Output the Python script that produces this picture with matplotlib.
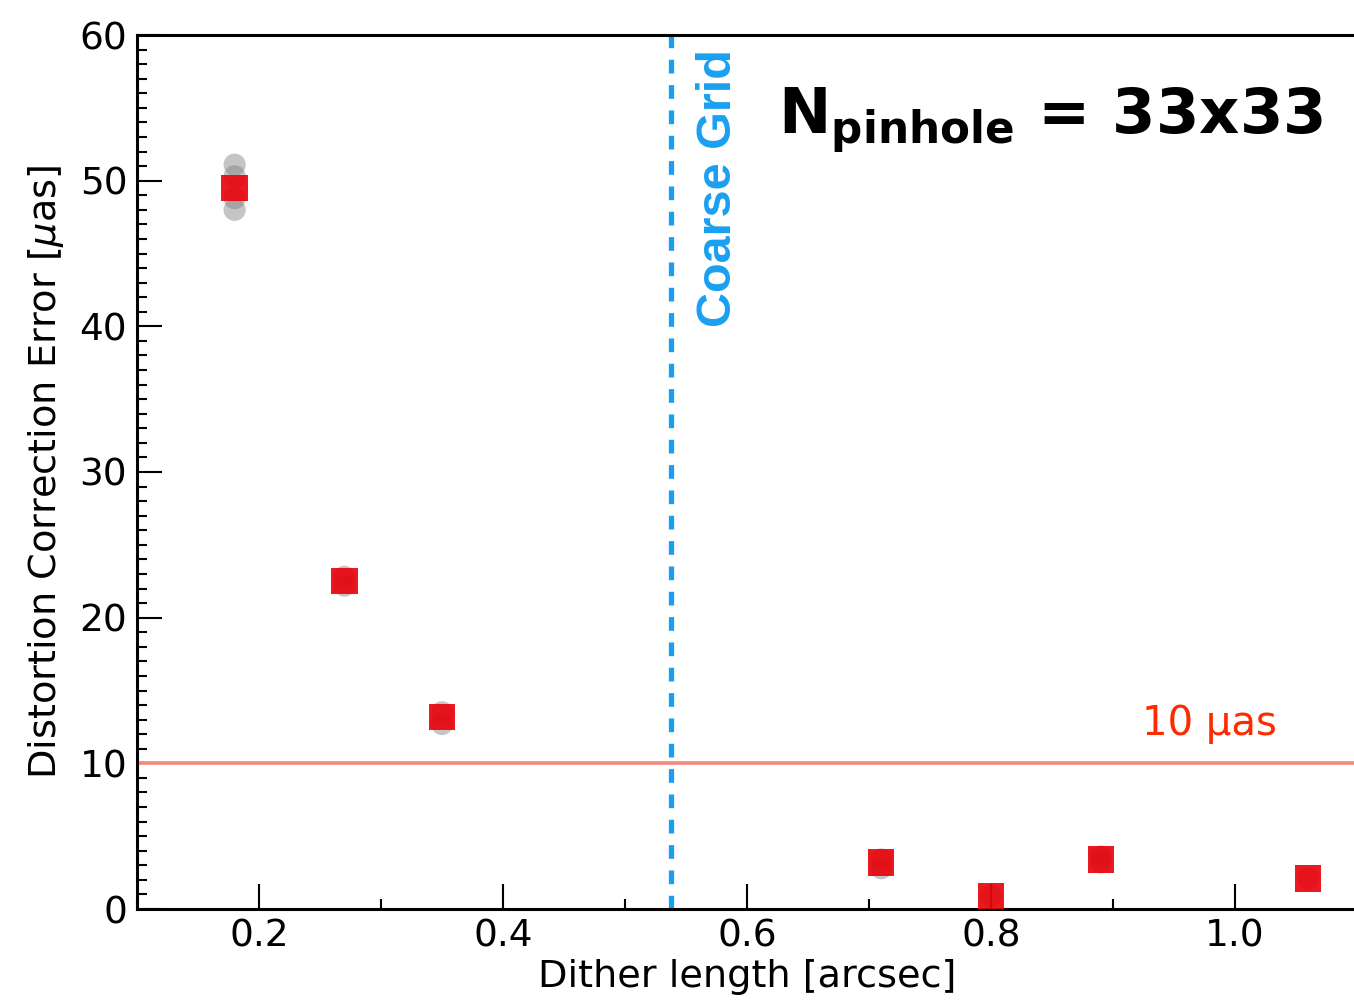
import matplotlib
matplotlib.use('Agg')
import matplotlib.pyplot as plt
from matplotlib.ticker import MultipleLocator

plt.rcParams['font.family'] = ['DejaVu Sans']

# 抖动长度 (arcsec) 与红色方块的平均误差
dither = [0.18, 0.27, 0.35, 0.71, 0.80, 0.89, 1.06]
err_mean = [49.5, 22.5, 13.2, 3.2, 0.9, 3.4, 2.1]

# 灰色圆点：各次实现的误差
real_x = [0.18, 0.18, 0.18, 0.18, 0.27, 0.27, 0.35, 0.35, 0.71, 0.71,
          0.80, 0.89, 0.89, 1.06]
real_y = [51.1, 50.3, 48.8, 48.0, 22.8, 22.2, 13.5, 12.7, 3.4, 2.8,
          0.9, 3.6, 3.2, 2.1]

coarse_x = 0.538
limit_y = 10

fig = plt.figure(figsize=(13.54, 10), dpi=100)
ax = fig.add_axes([0.1012, 0.091, 0.9010, 0.874])

ax.scatter(real_x, real_y, s=16 ** 2, c='grey', alpha=0.45, edgecolors='none', zorder=3)
ax.scatter(dither, err_mean, s=19 ** 2, marker='s', c='#e8000a', alpha=0.9,
           edgecolors='none', zorder=4)

ax.axhline(limit_y, color='#f4897c', lw=2.6, zorder=2)
ax.axvline(coarse_x, color='#1a9ff0', lw=3.8, ls=(0, (2.6, 2.2)), zorder=2)

ax.set_xlim(0.1, 1.1)
ax.set_ylim(0, 60)
ax.xaxis.set_major_locator(MultipleLocator(0.2))
ax.xaxis.set_minor_locator(MultipleLocator(0.1))
ax.yaxis.set_major_locator(MultipleLocator(10))
ax.yaxis.set_minor_locator(MultipleLocator(1))
ax.tick_params(which='major', direction='in', length=18, width=1.5, labelsize=27, pad=7)
ax.tick_params(which='minor', direction='in', length=7, width=1.5)
ax.tick_params(top=False, right=False)
for s in ax.spines.values():
    s.set_linewidth(2.2)

ax.set_xlabel('Dither length [arcsec]', fontsize=27.5, labelpad=3)
ax.set_ylabel(r'Distortion Correction Error [$\mu$as]', fontsize=27.5, labelpad=10)

ax.text(0.5765, 59.0, 'Coarse Grid', rotation=90, va='top', ha='center',
        color='#1a9ff0', fontsize=35, fontweight='bold', family='Liberation Sans')
ax.text(0.979, 11.3, '10 µas', color='#ff2a00', fontsize=29, ha='center',
        va='bottom', family='DejaVu Sans')
ax.text(0.625, 54.1, r'N$_{\mathregular{pinhole}}$ = 33x33', fontsize=45,
        fontweight='bold', va='center', ha='left', family='DejaVu Sans')

fig.savefig('out.png', dpi=100)
